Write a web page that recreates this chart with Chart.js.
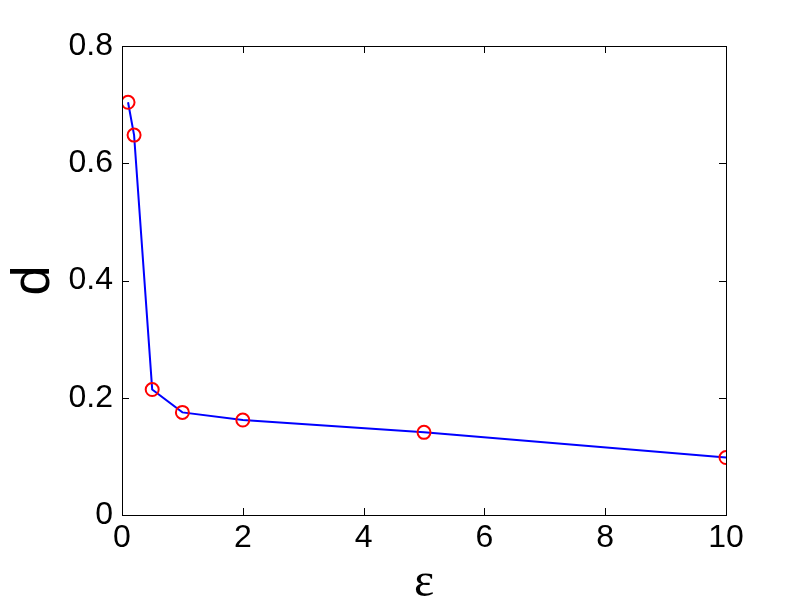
<!DOCTYPE html>
<html>
<head>
<meta charset="utf-8">
<script src="https://cdn.jsdelivr.net/npm/chart.js@4/dist/chart.umd.min.js"></script>
<style>
  html, body { margin: 0; padding: 0; background: #fff; }
  canvas { display: block; }
</style>
</head>
<body>
<canvas id="myChart" width="802" height="612"></canvas>
<script>
const epsValues = [0.1, 0.2, 0.5, 1, 2, 5, 10];
const dValues = [0.704, 0.648, 0.214, 0.175, 0.162, 0.141, 0.098];
const xTicks = [0, 2, 4, 6, 8, 10];
const yTicks = [0, 0.2, 0.4, 0.6, 0.8];

const points = epsValues.map((e, i) => ({ x: e, y: dValues[i] }));
const tickFont = { family: 'Liberation Sans, Arial, sans-serif', size: 32 };

// box round the plot, with inward ticks on all four sides
const boxPlugin = {
  id: 'box',
  afterDraw(chart) {
    const { ctx, chartArea: a, scales } = chart;
    const len = 7;
    ctx.save();
    ctx.strokeStyle = '#000';
    ctx.lineWidth = 1;
    ctx.strokeRect(a.left + 0.5, a.top + 0.5, a.right - a.left, a.bottom - a.top);
    ctx.beginPath();
    xTicks.forEach((v) => {
      const px = Math.round(scales.x.getPixelForValue(v)) + 0.5;
      ctx.moveTo(px, a.bottom); ctx.lineTo(px, a.bottom - len);
      ctx.moveTo(px, a.top); ctx.lineTo(px, a.top + len);
    });
    yTicks.forEach((v) => {
      const py = Math.round(scales.y.getPixelForValue(v)) + 0.5;
      ctx.moveTo(a.left, py); ctx.lineTo(a.left + len, py);
      ctx.moveTo(a.right, py); ctx.lineTo(a.right - len, py);
    });
    ctx.stroke();
    ctx.restore();
  },
};

const ctx = document.getElementById('myChart').getContext('2d');
const myChart = new Chart(ctx, {
  type: 'line',
  data: {
    datasets: [{
      data: points,
      borderColor: '#0000ff',
      borderWidth: 2,
      pointStyle: 'circle',
      pointRadius: 6.5,
      pointBorderWidth: 2,
      pointBorderColor: '#ff0000',
      pointBackgroundColor: 'rgba(0,0,0,0)',
      tension: 0,
    }],
  },
  options: {
    responsive: false,
    animation: false,
    layout: { padding: { top: 46, right: 76, left: 0, bottom: 0 } },
    plugins: { legend: { display: false }, tooltip: { enabled: false } },
    scales: {
      x: {
        type: 'linear',
        min: 0,
        max: 10,
        afterFit: (s) => { s.height = 97; },
        afterBuildTicks: (s) => { s.ticks = xTicks.map((v) => ({ value: v })); },
        grid: { display: false, drawTicks: false },
        border: { display: false },
        ticks: { color: '#000', font: tickFont, padding: 4, maxRotation: 0 },
        title: {
          display: true,
          text: 'ε',
          color: '#000',
          font: { family: 'Liberation Serif, DejaVu Serif, serif', size: 48 },
          padding: { top: 0, bottom: 0 },
        },
      },
      y: {
        min: 0,
        max: 0.8,
        afterFit: (s) => { s.width = 122; },
        afterBuildTicks: (s) => { s.ticks = yTicks.map((v) => ({ value: v })); },
        grid: { display: false, drawTicks: false },
        border: { display: false },
        ticks: { color: '#000', font: tickFont, padding: 9 },
        title: {
          display: true,
          text: 'd',
          color: '#000',
          font: { family: 'Liberation Sans, Arial, sans-serif', size: 54 },
          padding: { top: 2, bottom: 0 },
        },
      },
    },
  },
  plugins: [boxPlugin],
});
</script>
</body>
</html>
